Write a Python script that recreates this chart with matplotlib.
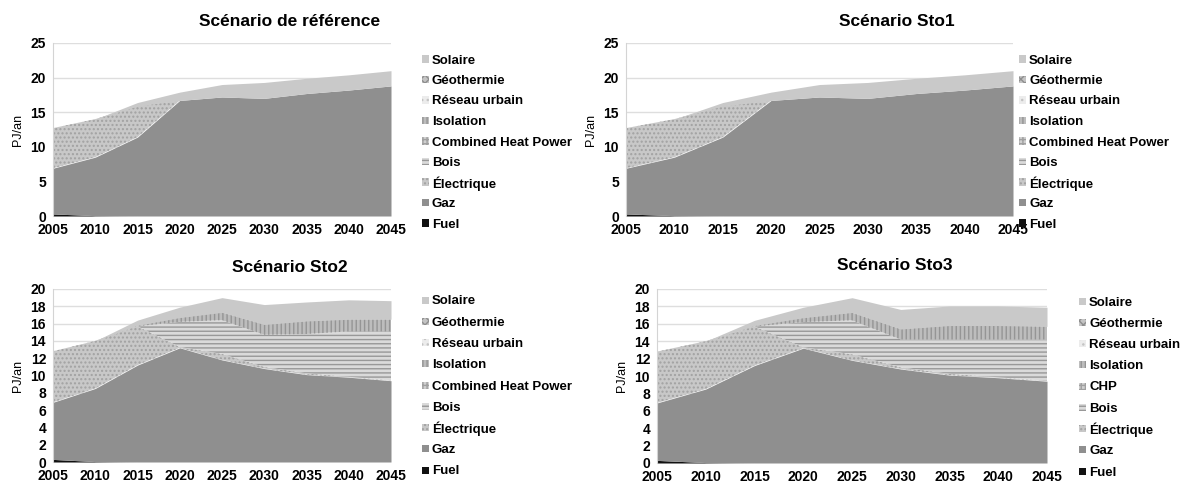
import matplotlib
matplotlib.use("Agg")
import matplotlib.pyplot as plt
from matplotlib.patches import Rectangle
import numpy as np

plt.rcParams['font.family'] = ['Liberation Sans', 'DejaVu Sans']
plt.rcParams['hatch.linewidth'] = 1.0

years = [2005, 2010, 2015, 2020, 2025, 2030, 2035, 2040, 2045]
layers = ["Fuel", "Gaz", "Électrique", "Bois", "Combined Heat Power",
          "Isolation", "Réseau urbain", "Géothermie", "Solaire"]

# PJ/an per source, reference scenario (Sto1 identical)
ref_fuel = [0.3, 0.05, 0, 0, 0, 0, 0, 0, 0]
ref_gaz = [6.6, 8.45, 11.4, 16.7, 17.2, 17.0, 17.7, 18.2, 18.8]
ref_elec = [5.8, 5.5, 4.5, 0, 0, 0, 0, 0, 0]
ref_bois = [0, 0, 0, 0, 0, 0, 0, 0, 0]
ref_chp = [0, 0, 0, 0, 0, 0, 0, 0, 0]
ref_isol = [0, 0, 0, 0, 0, 0, 0, 0, 0]
ref_reseau = [0, 0, 0, 0, 0, 0, 0, 0, 0]
ref_geo = [0, 0, 0, 0, 0, 0, 0, 0, 0]
ref_sol = [0, 0, 0.5, 1.2, 1.8, 2.3, 2.2, 2.2, 2.2]

# Sto2
sto2_fuel = [0.3, 0.05, 0, 0, 0, 0, 0, 0, 0]
sto2_gaz = [6.6, 8.45, 11.2, 13.2, 11.8, 10.8, 10.1, 9.8, 9.4]
sto2_elec = [5.9, 5.5, 4.5, 0.1, 0.7, 0.2, 0.15, 0.05, 0.05]
sto2_bois = [0, 0, 0, 2.9, 3.9, 3.7, 4.55, 5.25, 5.65]
sto2_chp = [0, 0, 0, 0, 0, 0, 0, 0, 0]
sto2_isol = [0, 0, 0.1, 0.5, 0.9, 1.2, 1.5, 1.4, 1.4]
sto2_reseau = [0, 0, 0, 0, 0, 0, 0, 0, 0]
sto2_geo = [0, 0, 0, 0, 0, 0, 0, 0, 0]
sto2_sol = [0, 0, 0.6, 1.2, 1.7, 2.3, 2.2, 2.25, 2.15]

# Sto3
sto3_fuel = [0.3, 0.05, 0, 0, 0, 0, 0, 0, 0]
sto3_gaz = [6.6, 8.45, 11.2, 13.2, 11.8, 10.8, 10.1, 9.8, 9.4]
sto3_elec = [5.9, 5.5, 4.5, 0.1, 0.7, 0.2, 0.15, 0.05, 0.05]
sto3_bois = [0, 0, 0, 2.9, 3.9, 3.2, 3.95, 4.35, 4.75]
sto3_chp = [0, 0, 0, 0, 0, 0, 0, 0, 0]
sto3_isol = [0, 0, 0.1, 0.5, 0.9, 1.2, 1.6, 1.6, 1.5]
sto3_reseau = [0, 0, 0, 0, 0, 0, 0, 0, 0]
sto3_geo = [0, 0, 0, 0, 0, 0, 0, 0, 0]
sto3_sol = [0, 0, 0.6, 1.2, 1.7, 2.25, 2.25, 2.25, 2.2]

# fill style per layer: (face, hatch, hatch colour)
styles = [
    ("#111111", None, "#111111"),   # Fuel
    ("#8f8f8f", None, "#8f8f8f"),   # Gaz
    ("#c8c8c8", "....", "#a2a2a2"),  # Électrique
    ("#dadada", "----", "#989898"),  # Bois
    ("#d0d0d0", "++++", "#a0a0a0"),  # CHP
    ("#bdbdbd", "||||", "#959595"),  # Isolation
    ("#ececec", "...", "#c4c4c4"),  # Réseau urbain
    ("#c4c4c4", "xxxx", "#8e8e8e"),  # Géothermie
    ("#c9c9c9", None, "#c9c9c9"),   # Solaire
]

W, H = 1183, 488
fig = plt.figure(figsize=(W / 100, H / 100), dpi=100)


def add_axes_px(left, right, top, bottom):
    return fig.add_axes([left / W, 1 - bottom / H, (right - left) / W, (bottom - top) / H])


def draw_legend(labels, x_sw, x_txt, y0, step):
    # entries listed top-down: last stacked layer first
    order = list(range(len(labels)))[::-1]
    for row, i in enumerate(order):
        yc = y0 + row * step
        fc, hatch, hc = styles[i]
        sw = 7
        rect = Rectangle((x_sw / W, 1 - (yc + sw / 2) / H), sw / W, sw / H,
                         transform=fig.transFigure, facecolor=fc, edgecolor=hc,
                         linewidth=0, hatch=hatch)
        fig.patches.append(rect)
        fig.text(x_txt / W, 1 - yc / H, labels[i], ha="left", va="center_baseline",
                 fontsize=9.5, fontweight="bold")


panels = [
    dict(title="Scénario de référence", box=(53, 391, 43, 216), ymax=25, ystep=5,
         title_xy=(290, 21), leg=(422, 432, 59, 20.5),
         data=[ref_fuel, ref_gaz, ref_elec, ref_bois, ref_chp, ref_isol, ref_reseau, ref_geo, ref_sol],
         labels=layers),
    dict(title="Scénario Sto1", box=(626, 1013, 43, 216), ymax=25, ystep=5,
         title_xy=(897, 21), leg=(1019, 1029, 59, 20.5),
         data=[ref_fuel, ref_gaz, ref_elec, ref_bois, ref_chp, ref_isol, ref_reseau, ref_geo, ref_sol],
         labels=layers),
    dict(title="Scénario Sto2", box=(53, 391, 289, 462), ymax=20, ystep=2,
         title_xy=(290, 267), leg=(422, 432, 300, 21.25),
         data=[sto2_fuel, sto2_gaz, sto2_elec, sto2_bois, sto2_chp, sto2_isol, sto2_reseau, sto2_geo, sto2_sol],
         labels=layers),
    dict(title="Scénario Sto3", box=(657, 1047, 289, 463), ymax=20, ystep=2,
         title_xy=(895, 265), leg=(1079, 1089, 301, 21.25),
         data=[sto3_fuel, sto3_gaz, sto3_elec, sto3_bois, sto3_chp, sto3_isol, sto3_reseau, sto3_geo, sto3_sol],
         labels=layers[:4] + ["CHP"] + layers[5:]),
]

for p in panels:
    ax = add_axes_px(*p["box"])
    polys = ax.stackplot(years, *p["data"], labels=p["labels"])
    for poly, (fc, hatch, hc) in zip(polys, styles):
        poly.set_facecolor(fc)
        poly.set_edgecolor(hc)
        poly.set_linewidth(0)
        if hatch:
            poly.set_hatch(hatch)
    ax.set_xlim(2005, 2045)
    ax.set_ylim(0, p["ymax"])
    ax.set_xticks(years)
    ax.set_yticks(np.arange(0, p["ymax"] + 0.1, p["ystep"]))
    ax.tick_params(length=0, labelsize=10, pad=5)
    for lab in ax.get_xticklabels() + ax.get_yticklabels():
        lab.set_fontweight("bold")
    ax.grid(axis="y", color="#dedede", lw=1)
    ax.set_axisbelow(True)
    for s in ("top", "right", "bottom"):
        ax.spines[s].set_visible(False)
    ax.spines["left"].set_color("#d4d4d4")
    ax.set_ylabel("PJ/an", fontsize=9)
    left, right = p["box"][0], p["box"][1]
    ax.yaxis.set_label_coords(-29 / (right - left), 0.5)

    fig.text(p["title_xy"][0] / W, 1 - p["title_xy"][1] / H, p["title"],
             ha="center", va="center", fontsize=12.5, fontweight="bold")

    draw_legend(p["labels"], *p["leg"])

fig.savefig("out.png", dpi=100)
